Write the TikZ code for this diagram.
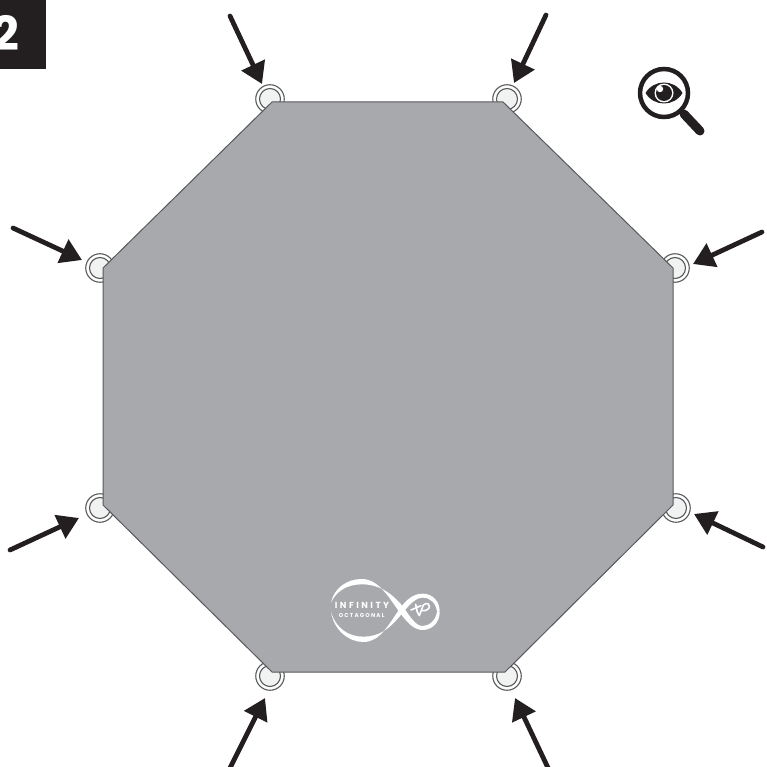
\documentclass[tikz,border=0pt]{standalone}
\usepackage{fontspec}
\setmainfont{Poppins}
\usetikzlibrary{arrows.meta}
\definecolor{ink}{HTML}{231F20}
\definecolor{tarp}{HTML}{A7A9AC}
\definecolor{edgec}{HTML}{58595B}
\definecolor{eyelet}{HTML}{F1F2F2}
\tikzset{
  ringo/.style={circle,draw=edgec,line width=1.1pt,fill=white,minimum size=28.5pt,inner sep=0pt},
  ringi/.style={circle,draw=edgec,line width=1.1pt,fill=eyelet,minimum size=21pt,inner sep=0pt},
  pointer/.style={draw=ink,line width=4.8pt,line cap=round,-{Triangle[length=21pt,width=25pt,fill=ink]}},
  logotext/.style={text=white,inner sep=0pt},
}
\begin{document}
\begin{tikzpicture}[x=1pt,y=-1pt]
\useasboundingbox (0,0) rectangle (766,767);
\clip (0,0) rectangle (766,767);
% number tab
\fill[ink] (0,0) rectangle (46,69);
\node[text=white,inner sep=0pt,font=\bfseries\fontsize{47}{47}\selectfont] (num) at (6,33) {2};
% eyelets
\foreach \n/\x/\y in {a/270/99,b/507/99,c/675/268,d/676/508,e/507/676,f/270/676,g/100/508,h/100/268}{
  \node[ringo] (o\n) at (\x,\y) {};
  \node[ringi] (i\n) at (\x,\y) {};
}
% tarp
\filldraw[fill=tarp,draw=edgec,line width=1pt,line join=round]
  (272,102) -- (503,102) -- (673,268) -- (673,505) -- (505,672) -- (272,672) -- (103,505) -- (103,268) -- cycle;
% arrows
\coordinate (ta) at (230,16);  \coordinate (pa) at (262,84);
\coordinate (tb) at (546,15);  \coordinate (pb) at (514,83);
\coordinate (tc) at (762,232); \coordinate (pc) at (693,264);
\coordinate (td) at (763,547); \coordinate (pd) at (694,514);
\coordinate (te) at (549,770); \coordinate (pe) at (515,698);
\coordinate (tf) at (229,770); \coordinate (pf) at (265,698);
\coordinate (tg) at (10,550);  \coordinate (pg) at (79,518);
\coordinate (th) at (13,228);  \coordinate (ph) at (82,260);
\foreach \n in {a,b,c,d,e,f,g,h}{ \draw[pointer] (t\n) -- (p\n); }
% magnifier
\draw[ink,line width=9pt,line cap=round] (684,114) -- (700,131);
\draw[ink,line width=4.5pt,fill=white] (664,93) circle (24);
\fill[ink] (645.5,93) .. controls (654,79) and (674,79) .. (682.5,93) .. controls (674,107) and (654,107) .. (645.5,93) -- cycle;
\fill[white] (664,93) circle (9.5);
\fill[ink] (664,93) circle (8);
\fill[white] (660,89) circle (3.2);
% logo
\begin{scope}[shift={(300,550)},x=0.3333pt,y=-0.3333pt]
\fill[white] (93,158) .. controls (102,115) and (140,87) .. (185,87)
  .. controls (240,87) and (270,150) .. (305,195)
  .. controls (325,222) and (345,240) .. (368,240)
  .. controls (398,240) and (420,215) .. (419,185)
  -- (411,185) .. controls (408,210) and (388,228) .. (368,228)
  .. controls (345,228) and (328,195) .. (305,165)
  .. controls (270,125) and (235,103) .. (185,103)
  .. controls (140,103) and (108,125) .. (93,158) -- cycle;
\fill[white] (93,186) .. controls (102,240) and (145,276) .. (190,276)
  .. controls (240,276) and (265,225) .. (300,175)
  .. controls (320,148) and (340,131) .. (368,131)
  .. controls (398,131) and (420,155) .. (419,185)
  -- (411,185) .. controls (408,160) and (392,143) .. (368,143)
  .. controls (345,143) and (325,168) .. (300,198)
  .. controls (265,240) and (235,260) .. (190,260)
  .. controls (145,260) and (108,235) .. (93,186) -- cycle;
\draw[white,line width=1.6pt,line cap=round] (333,180) -- (363,167);
\draw[white,line width=1.6pt,line cap=round] (347,163) .. controls (350,175) and (350,188) .. (358,196);
\draw[white,line width=1.6pt,line cap=round,line join=round] (358,197) -- (370,165) .. controls (392,148) and (398,185) .. (366,182);
\node[logotext,font=\bfseries\fontsize{8.8}{9}\selectfont\addfontfeature{LetterSpace=28}] (inf) at (186,167) {INFINITY};
\node[logotext,font=\bfseries\fontsize{5.6}{6}\selectfont\addfontfeature{LetterSpace=22}] (oct) at (185,196) {OCTAGONAL};
\end{scope}
\end{tikzpicture}
\end{document}
